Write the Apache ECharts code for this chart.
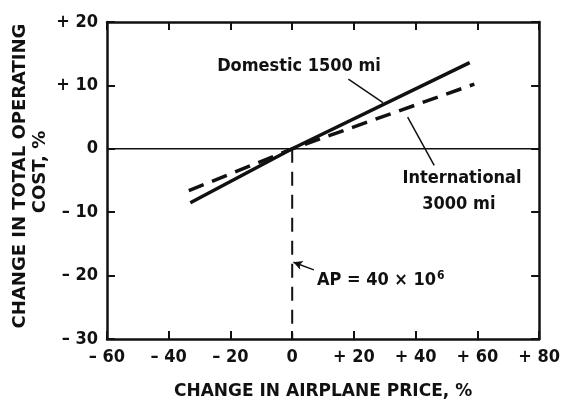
<!DOCTYPE html>
<html><head><meta charset="utf-8">
<script src="https://cdn.jsdelivr.net/npm/echarts@6/dist/echarts.min.js"></script>
<style>html,body{margin:0;padding:0;background:#fff}#chart{width:563px;height:405px}</style>
</head><body><div id="chart"></div>
<script>
// Axis ranges (percent)
const xTicks = [-60, -40, -20, 0, 20, 40, 60, 80];
const yTicks = [-30, -20, -10, 0, 10, 20];

// Change in total operating cost vs change in airplane price
const domestic = [[-33, -8.5], [0, 0], [57.5, 13.6]];
const international = [[-33.5, -6.6], [0, 0], [59, 10.2]];

// Reference lines
const zeroCost = [[-60, 0], [80, 0]];
const basePrice = [[0, 0], [0, -30]];

// Leader lines for the curve labels
const domesticLeader = [[18.2, 11.0], [29.4, 7.3]];
const internationalLeader = [[37.4, 5.0], [46, -2.6]];
const apArrow = [[7, -19.1], [0.4, -17.9]];

const FONT = "'DejaVu Sans Condensed', 'Liberation Sans Narrow', 'Liberation Sans', sans-serif";
const TITLE = "'DejaVu Sans', 'Liberation Sans', sans-serif";

const fmt = v => v > 0 ? '+ ' + v : (v < 0 ? '\u2013 ' + Math.abs(v) : '0');

const chart = echarts.init(document.getElementById('chart'));
const axisLine = { show: true, onZero: false, lineStyle: { color: '#111', width: 2.5 } };
const axisTick = { show: true, inside: true, length: 8, lineStyle: { color: '#111', width: 2 } };
const tickLabel = { fontFamily: FONT, fontSize: 18, fontWeight: 'bold', color: '#111' };

chart.setOption({
  animation: false,
  backgroundColor: '#fff',
  grid: { left: 107, right: 20, top: 22, bottom: 62 },
  xAxis: [
    { type: 'value', min: xTicks[0], max: xTicks[xTicks.length - 1], interval: 20, position: 'bottom',
      axisLine, axisTick, splitLine: { show: false },
      axisLabel: Object.assign({ formatter: fmt, margin: 9 }, tickLabel),
      name: 'CHANGE IN AIRPLANE PRICE, %', nameLocation: 'middle', nameGap: 44,
      nameTextStyle: { fontFamily: TITLE, fontSize: 17, fontWeight: 'bold', color: '#111' } },
    { type: 'value', min: xTicks[0], max: xTicks[xTicks.length - 1], interval: 20, position: 'top',
      axisLine, axisTick, splitLine: { show: false }, axisLabel: { show: false } }
  ],
  yAxis: [
    { type: 'value', min: yTicks[0], max: yTicks[yTicks.length - 1], interval: 10, position: 'left',
      axisLine, axisTick, splitLine: { show: false },
      axisLabel: Object.assign({ formatter: fmt, margin: 9 }, tickLabel) },
    { type: 'value', min: yTicks[0], max: yTicks[yTicks.length - 1], interval: 10, position: 'right',
      axisLine, axisTick, splitLine: { show: false }, axisLabel: { show: false } }
  ],
  series: [
    { type: 'line', data: zeroCost, symbol: 'none', lineStyle: { color: '#111', width: 1.5 } },
    { type: 'line', data: basePrice, symbol: 'none', lineStyle: { color: '#111', width: 2, type: [14, 9] } },
    { type: 'line', data: domestic, symbol: 'none', lineStyle: { color: '#111', width: 3.5 } },
    { type: 'line', data: international, symbol: 'none', lineStyle: { color: '#111', width: 3.5, type: [16, 9] } },
    { type: 'line', data: domesticLeader, symbol: 'none', lineStyle: { color: '#111', width: 1.5 } },
    { type: 'line', data: internationalLeader, symbol: 'none', lineStyle: { color: '#111', width: 1.5 } },
    { type: 'line', data: [], symbol: 'none',
      markLine: { silent: true, symbol: ['none', 'arrow'], symbolSize: [7, 9], label: { show: false },
        lineStyle: { color: '#111', width: 1.5, type: 'solid' },
        data: [[{ coord: apArrow[0] }, { coord: apArrow[1] }]] } }
  ]
});

// Curve annotations anchored in data coordinates
const px = p => chart.convertToPixel({ xAxisIndex: 0, yAxisIndex: 0 }, p);
const labelStyle = { fontFamily: FONT, fontSize: 18, fontWeight: 'bold', fill: '#111' };
const notes = [
  { at: [2.2, 13.0], text: 'Domestic 1500 mi', align: 'center' },
  { at: [55, -4.6], text: 'International', align: 'center' },
  { at: [54, -8.8], text: '3000 mi', align: 'center' }
];
const elements = notes.map(n => {
  const p = px(n.at);
  return { type: 'text', x: p[0], y: p[1],
    style: Object.assign({ text: n.text, textAlign: n.align, textVerticalAlign: 'middle' }, labelStyle) };
});
const ap = px([8, -20.8]);
elements.push({ type: 'text', x: ap[0], y: ap[1],
  style: { text: '{m|AP = 40 \u00d7 10}{s|6}', textAlign: 'left', textVerticalAlign: 'middle',
    rich: { m: { fontFamily: FONT, fontSize: 18, fontWeight: 'bold', fill: '#111', color: '#111' },
            s: { fontFamily: FONT, fontSize: 12, fontWeight: 'bold', fill: '#111', color: '#111', verticalAlign: 'top', padding: [0, 0, 10, 1] } } } });
// Vertical axis title on two lines
elements.push({ type: 'text', x: 20, y: 176, rotation: Math.PI / 2,
  style: { text: 'CHANGE IN TOTAL OPERATING', fontFamily: TITLE, fontSize: 18, fontWeight: 'bold', fill: '#111', textAlign: 'center', textVerticalAlign: 'middle' } });
elements.push({ type: 'text', x: 40, y: 172, rotation: Math.PI / 2,
  style: { text: 'COST, %', fontFamily: TITLE, fontSize: 18, fontWeight: 'bold', fill: '#111', textAlign: 'center', textVerticalAlign: 'middle' } });
chart.setOption({ graphic: elements });
</script>
</body></html>
